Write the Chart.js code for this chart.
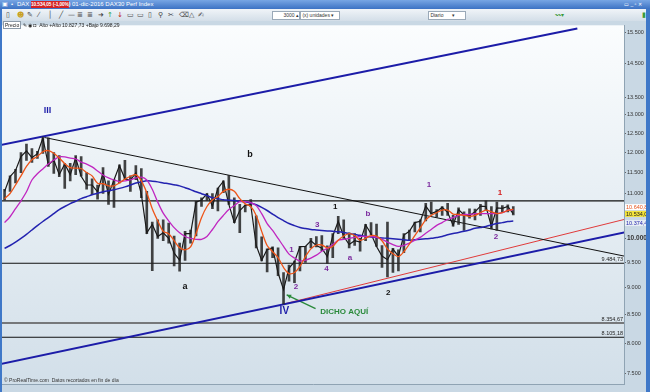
<!DOCTYPE html>
<html>
<head>
<meta charset="utf-8">
<script src="https://cdn.jsdelivr.net/npm/chart.js@4.4.1/dist/chart.umd.min.js"></script>
<style>
  body { margin: 0; width: 650px; height: 392px; overflow: hidden; position: relative;
         background: #3f78c8; font-family: "Liberation Sans", Arial, sans-serif; }
  #titlebar { position: absolute; left: 0; top: 0; width: 650px; height: 9px;
              background: linear-gradient(#78a6e4, #3c72c4); color: #fff; font-size: 6px; line-height: 9px; white-space: nowrap; }
  #titlebar span { position: absolute; top: 0; }
  #quote { left: 31px; width: 38px; height: 7px; top: 1px !important; line-height: 7px; background: #d42222;
           text-align: center; font-size: 4.8px; font-weight: bold; letter-spacing: -0.1px; }
  #toolbar { position: absolute; left: 2px; top: 9px; width: 644px; height: 12px;
             background: linear-gradient(#f0f4f8, #d3dee8); color: #444; font-size: 7px; line-height: 12px; white-space: nowrap;
             font-family: "DejaVu Sans", sans-serif; }
  #toolbar span { position: absolute; top: 0; }
  .box { background: #fff; border: 1px solid #9aa9b8; height: 7px; line-height: 7px; top: 2px !important; font-size: 5px; color: #333;
         font-family: "Liberation Sans", Arial, sans-serif; }
  #wrap { position: absolute; left: 2px; top: 21px; width: 644px; height: 371px; }
  #precio { position: absolute; left: 3px; top: 22px; height: 7px; font-size: 5px; line-height: 7px; color: #222; white-space: nowrap; }
  #precio b { font-weight: normal; background: #fff; border: 1px solid #8c9aa8; padding: 0 1px; }
</style>
</head>
<body>
<div id="titlebar">
  <span style="left:2px">▣</span>
  <span style="left:11px">•</span>
  <span style="left:17px">DAX</span>
  <span id="quote">10.534,05 (-1,00%)</span>
  <span style="left:72px">01-dic-2016 DAX30 Perf Index</span>
  <span style="left:624px;font-size:5px">▭ _ ▫ ✕</span>
</div>
<div id="toolbar">
  <span style="left:4px">▯</span><span style="left:15px;color:#c8a020">☻</span><span style="left:25px">✎</span>
  <span style="left:36px">⁄</span><span style="left:46px">│</span><span style="left:57px">╱</span><span style="left:66px">—</span>
  <span style="left:75px">≣</span><span style="left:85px">≣</span><span style="left:96px">➜</span>
  <span style="left:105px;color:#2a9a3a">↑</span><span style="left:115px;color:#c02020">↓</span>
  <span style="left:125px">▭</span><span style="left:135px">▭</span><span style="left:146px">▯</span><span style="left:156px">⚲</span>
  <span style="left:166px">✂</span><span style="left:177px">⌫</span><span style="left:187px">△</span><span style="left:196px">✍</span>
  <span class="box" style="left:270px;width:26px;text-align:right">3000 ▴</span>
  <span class="box" style="left:298px;width:38px">&nbsp;(x) unidades ▾</span>
  <span class="box" style="left:426px;width:36px">&nbsp;Diario&nbsp;&nbsp;&nbsp;&nbsp;&nbsp;&nbsp;▾</span>
  <span style="left:553px;color:#3a9a3a;font-size:6px">〰▾</span>
  <span style="left:640px;color:#3a9a3a">▮</span>
</div>
<div id="wrap"><canvas id="chart" width="644" height="371"></canvas></div>
<div id="precio"><b>Precio</b> ✎ ◉ ◘ &nbsp;Alto +Alto 10.827,73 +Bajo 9.698,29</div>

<script>
// weekly DAX bars, first week starts Mon 16-feb-2015 (plotted on its Wednesday)
const firstWeek = "2015-02-18";

const high = [11100, 11420, 11580, 12000, 12220, 12100, 12030, 12390, 12380, 12000,
  11920, 11720, 11730, 11920, 11900, 11500, 11350, 11200, 11620, 11300,
  11330, 11690, 11800, 11420, 11670, 11600, 11050, 10350, 10400, 10400,
  10330, 10050, 9900, 10150, 10180, 10820, 10900, 11000, 11000, 11130,
  11300, 11430, 10900, 10750, 10730, 10860, 10490, 10030, 9780, 9820,
  9800, 9300, 9450, 9530, 9830, 9830, 10000, 10040, 10060, 9840,
  10100, 10480, 10400, 10120, 10100, 10000, 10300, 10340, 10310, 9850,
  10350, 9790, 9760, 10100, 10180, 10350, 10400, 10770, 10800, 10630,
  10700, 10770, 10500, 10670, 10580, 10650, 10640, 10750, 10830, 10700,
  10800, 10720, 10740, 10700];

const low = [10850, 11050, 11250, 11500, 11800, 11750, 11850, 11980, 11650, 11480,
  11400, 11120, 11300, 11450, 11410, 11100, 10970, 10870, 11000, 10750,
  10680, 11250, 11330, 11050, 11330, 10900, 10100, 9338, 10000, 9950,
  9900, 9430, 9325, 9540, 9900, 10050, 10700, 10840, 10650, 10600,
  11020, 10750, 10340, 10120, 10580, 10700, 9800, 9530, 9310, 9600,
  9240, 8699, 9130, 9100, 9330, 9500, 9800, 9820, 9740, 9480,
  9600, 10100, 10000, 9800, 9850, 9730, 9950, 10080, 9830, 9400,
  9214, 9300, 9330, 9700, 9950, 10140, 10140, 10380, 10530, 10460,
  10500, 10500, 10260, 10300, 10170, 10440, 10400, 10500, 10620, 10200,
  10170, 10560, 10580, 10510];

const close = [11050, 11400, 11550, 11900, 12040, 11870, 11970, 12375, 11690, 11810,
  11450, 11710, 11450, 11860, 11410, 11200, 11200, 11040, 11490, 10980,
  11320, 11670, 11350, 11310, 11490, 10985, 10120, 10300, 10040, 10120,
  10000, 9690, 9550, 10100, 10100, 10800, 10850, 10990, 10710, 11120,
  11290, 10750, 10340, 10610, 10730, 10743, 9850, 9545, 9765, 9800,
  9290, 8967, 9390, 9510, 9825, 9830, 9950, 9850, 9795, 9620,
  10050, 10370, 10040, 9870, 9950, 9920, 10290, 10100, 9830, 9630,
  9557, 9776, 9630, 10070, 10150, 10340, 10370, 10710, 10540, 10590,
  10680, 10570, 10280, 10630, 10510, 10490, 10580, 10710, 10700, 10260,
  10670, 10660, 10700, 10534.05];

// moving averages, one value per week
const maShort = [10880, 11000, 11200, 11420, 11650, 11820, 11900, 12020, 12050, 11980,
  11860, 11720, 11620, 11610, 11600, 11500, 11420, 11240, 11230, 11180,
  11180, 11250, 11340, 11410, 11450, 11300, 11020, 10650, 10380, 10150,
  10100, 9950, 9800, 9760, 9820, 10100, 10450, 10700, 10850, 10930,
  11050, 11100, 11050, 10880, 10760, 10700, 10500, 10150, 9850, 9720,
  9600, 9400, 9280, 9300, 9420, 9620, 9780, 9860, 9860, 9800,
  9830, 9960, 10050, 10100, 10060, 9960, 10000, 10060, 10050, 9950,
  9780, 9680, 9620, 9720, 9880, 10060, 10230, 10400, 10500, 10560,
  10620, 10620, 10530, 10520, 10500, 10480, 10500, 10560, 10620, 10580,
  10540, 10560, 10610, 10640.87];

const maMid = [10340, 10470, 10650, 10830, 11040, 11320, 11470, 11590, 11710, 11810,
  11890, 11890, 11860, 11840, 11760, 11710, 11640, 11540, 11440, 11370,
  11320, 11280, 11300, 11320, 11370, 11390, 11320, 11100, 10800, 10550,
  10380, 10230, 10120, 10040, 10000, 9980, 9980, 10040, 10190, 10360,
  10500, 10630, 10720, 10810, 10810, 10790, 10720, 10540, 10320, 10170,
  10000, 9830, 9670, 9590, 9530, 9550, 9590, 9650, 9730, 9790,
  9870, 9960, 9980, 10000, 10020, 10040, 10040, 10040, 10020, 9980,
  9920, 9870, 9830, 9850, 9900, 9960, 10020, 10110, 10190, 10280,
  10340, 10410, 10450, 10500, 10520, 10520, 10540, 10540, 10540, 10540,
  10540, 10560, 10610, 10630];

const maLong = [9790, 9850, 9920, 10000, 10085, 10180, 10275, 10365, 10450, 10540,
  10630, 10700, 10765, 10820, 10880, 10925, 10970, 11005, 11040, 11065,
  11090, 11120, 11155, 11200, 11250, 11275, 11300, 11290, 11275, 11250,
  11230, 11205, 11180, 11135, 11090, 11040, 10995, 10950, 10900, 10880,
  10855, 10845, 10835, 10820, 10810, 10780, 10740, 10680, 10610, 10530,
  10450, 10385, 10320, 10275, 10235, 10210, 10190, 10180, 10170, 10160,
  10150, 10140, 10125, 10105, 10085, 10065, 10040, 10030, 10020, 10010,
  10000, 9990, 9980, 9970, 9960, 9970, 9980, 9990, 10000, 10020,
  10040, 10075, 10105, 10125, 10150, 10180, 10215, 10235, 10255, 10290,
  10320, 10340, 10365, 10374.45];

const monthTicks = ["2015-03-01", "2015-04-01", "2015-05-01", "2015-06-01", "2015-07-01", "2015-08-01",
  "2015-09-01", "2015-10-01", "2015-11-01", "2015-12-01", "2016-01-01", "2016-02-01", "2016-03-01",
  "2016-04-01", "2016-05-01", "2016-06-01", "2016-07-01", "2016-08-01", "2016-09-01", "2016-10-01",
  "2016-11-01", "2016-12-01", "2017-01-01", "2017-02-01", "2017-03-01", "2017-04-01"];
const monthLabels = ["mar", "abr", "may", "jun", "jul", "ago", "sep", "oct", "nov", "dic", "2016", "feb", "mar",
  "abr", "may", "jun", "jul", "ago", "sep", "oct", "nov", "dic", "2017", "feb", "mar", "abr"];

const priceTicks = [15500, 14500, 13500, 13000, 12500, 12000, 11500, 11000, 10000, 9500, 9000, 8500, 8000, 7500];

// horizontal levels
const levels = [10827.73, 9484.73, 8354.67, 8105.18];
const levelLabels = ["", "9.484,73", "8.354,67", "8.105,18"];

// drawn trend lines: [date, price] pairs
const upperChannel = [["2015-02-12", 12190], ["2017-02-20", 15620]];
const fallingLine = [["2015-04-10", 12390], ["2017-04-21", 9630]];
const risingBlue = [["2015-02-12", 7655], ["2017-04-21", 10127]];
const risingRed = [["2016-02-11", 8700], ["2017-04-21", 10410]];
const pointer = [["2016-02-14", 8869], ["2016-03-22", 8612]];

// wave labels: text, date, price, colour, size
const waveLabels = [
  ["III", "2015-04-14", 13120, "#1c1ca8", 9],
  ["b", "2015-12-29", 11960, "#111", 9],
  ["a", "2015-10-07", 9020, "#111", 9],
  ["IV", "2016-02-11", 8557, "#1c1ca8", 10],
  ["1", "2016-02-20", 9750, "#7b2a9e", 8],
  ["2", "2016-02-26", 9020, "#7b2a9e", 8],
  ["3", "2016-03-24", 10299, "#7b2a9e", 8],
  ["4", "2016-04-05", 9368, "#7b2a9e", 8],
  ["a", "2016-05-05", 9588, "#7b2a9e", 8],
  ["b", "2016-05-28", 10540, "#7b2a9e", 8],
  ["1", "2016-04-16", 10697, "#111", 8],
  ["2", "2016-06-23", 8907, "#111", 8],
  ["1", "2016-08-14", 11204, "#7b2a9e", 8],
  ["1", "2016-11-13", 11017, "#d42020", 8],
  ["2", "2016-11-08", 10042, "#7b2a9e", 8],
];
const noteText = "DICHO AQUÍ";
const noteAt = ["2016-03-28", 8557];

// last values shown as tags on the price axis
const tags = [[10640.87, "#e4531c", "#fff"], [10534.05, "#222", "#f2e33a"], [10374.45, "#1c1ca8", "#e8eef4"]];

const X_MIN = -1.3;
const X_MAX = 794.7;

function day(s) {
  return (Date.parse(s) - Date.parse("2015-02-16")) / 864e5;
}

function fmt(n, dec) {
  const parts = n.toFixed(dec).split(".");
  const int = parts[0].replace(/\B(?=(\d{3})+(?!\d))/g, ".");
  return parts[1] ? int + "," + parts[1] : int;
}

const week0 = day(firstWeek);
const weekX = (i) => week0 + i * 7;
const series = (arr) => arr.map((v, i) => ({ x: weekX(i), y: v }));
const segment = (pair) => pair.map((p) => ({ x: day(p[0]), y: p[1] }));

function lineSet(data, color, width, order, tension) {
  return { type: "line", data, borderColor: color, borderWidth: width, pointRadius: 0,
           tension: tension || 0, order, fill: false };
}

const decor = {
  id: "decor",
  beforeDraw(chart) {
    const { ctx, chartArea: a, width, height } = chart;
    ctx.save();
    ctx.fillStyle = "#c9d8e4";
    ctx.fillRect(0, 0, width, height);
    const g = ctx.createLinearGradient(0, a.top, 0, a.bottom);
    g.addColorStop(0, "#fbfdfe");
    g.addColorStop(1, "#d2dfe9");
    ctx.fillStyle = g;
    ctx.fillRect(a.left, a.top, a.right - a.left, a.bottom - a.top);
    ctx.restore();
  },
  afterDatasetsDraw(chart) {
    const { ctx, chartArea: a } = chart;
    const xs = chart.scales.x, ys = chart.scales.y;
    ctx.save();
    ctx.beginPath();
    ctx.rect(a.left, a.top, a.right - a.left, a.bottom - a.top);
    ctx.clip();

    // level captions
    ctx.font = "5.5px 'Liberation Sans'";
    ctx.fillStyle = "#222";
    ctx.textAlign = "right";
    ctx.textBaseline = "bottom";
    levels.forEach((lv, i) => {
      if (levelLabels[i]) ctx.fillText(levelLabels[i], a.right - 1, ys.getPixelForValue(lv) - 1);
    });

    // wave labels
    ctx.textAlign = "center";
    ctx.textBaseline = "middle";
    waveLabels.forEach(([t, d, v, c, s]) => {
      ctx.font = `bold ${s}px 'Liberation Sans'`;
      ctx.fillStyle = c;
      ctx.fillText(t, xs.getPixelForValue(day(d)), ys.getPixelForValue(v));
    });
    ctx.font = "bold 8px 'Liberation Sans'";
    ctx.fillStyle = "#2a8a3a";
    ctx.textAlign = "left";
    ctx.fillText(noteText, xs.getPixelForValue(day(noteAt[0])), ys.getPixelForValue(noteAt[1]));

    // arrow head of the pointer
    const p0 = { x: xs.getPixelForValue(day(pointer[0][0])), y: ys.getPixelForValue(pointer[0][1]) };
    const p1 = { x: xs.getPixelForValue(day(pointer[1][0])), y: ys.getPixelForValue(pointer[1][1]) };
    const ang = Math.atan2(p0.y - p1.y, p0.x - p1.x);
    ctx.fillStyle = "#2a8a3a";
    ctx.beginPath();
    ctx.moveTo(p0.x, p0.y);
    ctx.lineTo(p0.x - 5 * Math.cos(ang - 0.45), p0.y - 5 * Math.sin(ang - 0.45));
    ctx.lineTo(p0.x - 5 * Math.cos(ang + 0.45), p0.y - 5 * Math.sin(ang + 0.45));
    ctx.closePath();
    ctx.fill();

    // copyright line
    ctx.font = "5px 'Liberation Sans'";
    ctx.fillStyle = "#333";
    ctx.textAlign = "left";
    ctx.textBaseline = "bottom";
    ctx.fillText("© ProRealTime.com  Datos recortados en fin de día", a.left + 2, a.bottom - 1);
    ctx.restore();
  },
  afterDraw(chart) {
    const { ctx, chartArea: a } = chart;
    const ys = chart.scales.y;
    ctx.save();
    ctx.font = "5.5px 'Liberation Sans'";
    ctx.textAlign = "left";
    ctx.textBaseline = "middle";
    const offs = [-2, 0, 2];
    tags.forEach(([v, fg, bg], i) => {
      const y = ys.getPixelForValue(v) + offs[i];
      ctx.fillStyle = bg;
      ctx.fillRect(a.right + 1, y - 3, 21, 6);
      ctx.fillStyle = fg;
      ctx.fillText(fmt(v, 2), a.right + 2, y + 0.5);
    });
    ctx.restore();
  },
};

const datasets = [
  lineSet(series(maShort), "#ee5418", 1.3, 1, 0.3),
  lineSet(series(maMid), "#c026c0", 1.3, 1, 0.3),
  lineSet(series(maLong), "#2323b0", 1.5, 1, 0.3),
  lineSet(series(close), "#1a1a1a", 1.2, 2),
  {
    type: "bar",
    data: high.map((h, i) => ({ x: weekX(i), y: [low[i], h] })),
    backgroundColor: "rgba(35,35,35,0.85)",
    barThickness: 2,
    grouped: false,
    order: 3,
  },
  lineSet(segment(upperChannel), "#1c1ca8", 2, 4),
  lineSet(segment(fallingLine), "#111", 1, 4),
  lineSet(segment(risingBlue), "#1c1ca8", 2, 4),
  lineSet(segment(risingRed), "#e03a3a", 1, 4),
  lineSet(segment(pointer), "#2a8a3a", 1.3, 4),
  ...levels.map((lv, i) => lineSet([{ x: X_MIN, y: lv }, { x: X_MAX, y: lv }],
    i === 2 ? "#555" : "#111", i === 2 ? 1.6 : 1.1, 5)),
];

new Chart(document.getElementById("chart"), {
  type: "bar",
  data: { datasets },
  plugins: [decor],
  options: {
    responsive: false,
    animation: false,
    events: [],
    layout: { padding: { top: 1, left: 0, right: 0, bottom: 0 } },
    plugins: { legend: { display: false }, tooltip: { enabled: false } },
    scales: {
      x: {
        type: "linear",
        min: X_MIN,
        max: X_MAX,
        offset: false,
        afterBuildTicks: (s) => { s.ticks = monthTicks.map((d) => ({ value: day(d) })); },
        afterFit: (s) => { s.height = 8; },
        grid: { display: false },
        border: { display: true, color: "#8fa3b3" },
        ticks: {
          autoSkip: false, maxRotation: 0, minRotation: 0, padding: 1,
          color: "#333",
          font: (c) => ({ family: "Liberation Sans", size: 6,
            weight: /^\d/.test(monthLabels[c.index] || "") ? "bold" : "normal" }),
          callback: (v, i) => monthLabels[i],
        },
      },
      y: {
        type: "logarithmic",
        position: "right",
        min: 7339,
        max: 15724,
        afterBuildTicks: (s) => { s.ticks = priceTicks.map((v) => ({ value: v })); },
        afterFit: (s) => { s.width = 22; },
        grid: { display: true, drawOnChartArea: false, tickLength: 2, color: "#666" },
        border: { display: true, color: "#8fa3b3" },
        ticks: {
          padding: 1,
          color: "#333",
          font: (c) => ({ family: "Liberation Sans", size: c.tick && c.tick.value === 10000 ? 6.5 : 5.5,
            weight: c.tick && c.tick.value === 10000 ? "bold" : "normal" }),
          callback: (v) => fmt(v, 0),
        },
      },
    },
  },
});
</script>
</body>
</html>
